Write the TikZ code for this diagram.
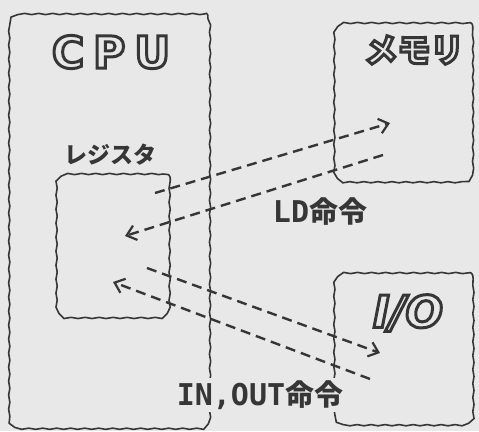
\documentclass[tikz,border=0pt]{standalone}
\usepackage{fontspec}
\setmainfont{DejaVu Sans}
\newfontfamily\jpfont{Noto Sans CJK JP}
\newfontfamily\codefont{DejaVu Sans Mono}
\usetikzlibrary{arrows.meta,decorations.pathmorphing}
\definecolor{paper}{HTML}{E8E8E8}
\definecolor{ink}{HTML}{363636}
% outlined (hollow) letters
\newcommand{\hollow}[1]{\special{pdf:literal direct q 1 Tr 3 w}#1\special{pdf:literal direct 0 Tr Q}}

\begin{document}
\begin{tikzpicture}[
  x=1pt, y=-1pt,
  unit/.style={rounded corners=10pt, inner sep=0pt,
               postaction={draw=ink, line width=1.6pt, sharp corners, decorate,
                           decoration={snake, amplitude=0.6pt, segment length=14pt}}},
  title/.style={text=ink, inner sep=0pt},
  jlab/.style={text=ink, font=\jpfont\bfseries, inner sep=0pt},
  cmd/.style={jlab, fill=paper, inner sep=2pt},
  dasharr/.style={draw=ink, line width=2.4pt, dash pattern=on 10pt off 6pt,
                  -{Straight Barb[length=9pt, width=15pt, line width=2.2pt]}},
]
\clip (0,0) rectangle (479,431);
\fill[paper] (0,0) rectangle (479,431);
% units
\node[unit, minimum width=201pt, minimum height=415pt] (cpu) at (113.5,221.5) {};
\node[unit, minimum width=113pt, minimum height=144pt] (reg) at (116.5,246) {};
\node[unit, minimum width=139pt, minimum height=159pt] (mem) at (407.5,102.5) {};
\node[unit, minimum width=139pt, minimum height=152pt] (io)  at (407.5,349) {};
% titles
\node[title, font=\fontsize{44}{44}\bfseries] (cpulbl) at (111,52) {\hollow{C\hspace{9pt}P\hspace{9pt}U}};
\node[title, font=\jpfont\bfseries\fontsize{33}{33}\selectfont] (memlbl) at (414,50) {\hollow{メモリ}};
\node[title, font=\fontsize{44}{44}\bfseries\itshape] (iolbl) at (408,313) {\hollow{I/O}};
\node[jlab, font=\jpfont\bfseries\fontsize{23}{23}\selectfont] (reglbl) at (110,155) {レジスタ};
% transfers
\coordinate (ldout) at (155,193);
\coordinate (ldmem) at (390,123);
\coordinate (ldin)  at (383,155);
\coordinate (ldreg) at (125,236);
\coordinate (ioout) at (147,268);
\coordinate (iodev) at (380,353);
\coordinate (ioin)  at (370,379);
\coordinate (ioreg) at (113,282);
\draw[dasharr] (ldout) -- (ldmem);
\draw[dasharr] (ldin) -- (ldreg);
\draw[dasharr] (ioout) -- (iodev);
\draw[dasharr] (ioin) -- (ioreg);
\node[cmd] (ldlbl) at (320,212) {{\codefont\bfseries\fontsize{30}{30}\selectfont LD}{\fontsize{29}{29}\selectfont 命令}};
\node[cmd] (iocmd) at (260,395) {{\codefont\bfseries\fontsize{30}{30}\selectfont IN,OUT}{\fontsize{29}{29}\selectfont 命令}};
\end{tikzpicture}
\end{document}
